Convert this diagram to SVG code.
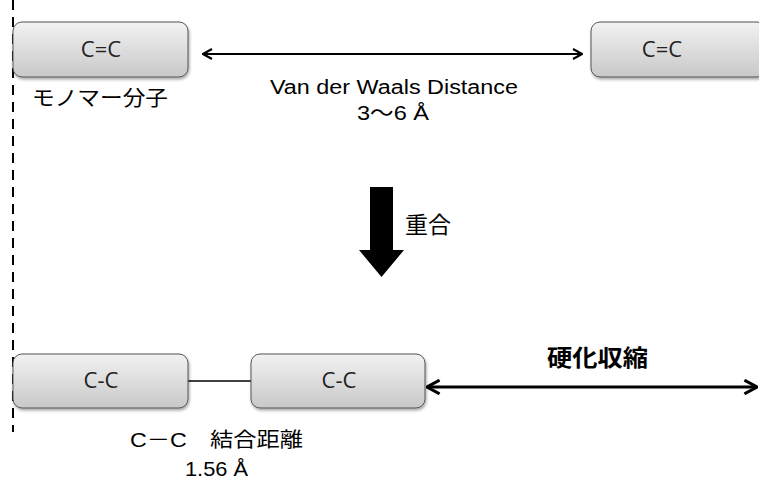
<svg xmlns="http://www.w3.org/2000/svg" width="759" height="480" viewBox="0 0 759 480">
<defs>
<linearGradient id="g" x1="0" y1="0" x2="0" y2="1">
<stop offset="0" stop-color="#f2f2f2"/>
<stop offset="1" stop-color="#c8c8c8"/>
</linearGradient>
<filter id="sh" x="-10%" y="-20%" width="130%" height="160%">
<feDropShadow dx="1" dy="2" stdDeviation="1.5" flood-color="#000" flood-opacity="0.35"/>
</filter>
<marker id="ah" viewBox="0 0 12 12" refX="11" refY="6" markerWidth="12" markerHeight="12" markerUnits="userSpaceOnUse" orient="auto-start-reverse">
<polyline points="2,1 11,6 2,11" fill="none" stroke="#000" stroke-width="2.2"/>
</marker>
<marker id="ah2" viewBox="0 0 14 14" refX="13" refY="7" markerWidth="16" markerHeight="16" markerUnits="userSpaceOnUse" orient="auto-start-reverse">
<polyline points="2,1 13,7 2,13" fill="none" stroke="#000" stroke-width="2.6"/>
</marker>
</defs>
<style>
.box{fill:url(#g);stroke:#555;stroke-width:1;filter:url(#sh)}
.bl{font-family:"Open Sans","Liberation Sans",sans-serif;font-size:22px;fill:#222;text-anchor:middle}
.jp{font-family:"Noto Sans CJK JP","Liberation Sans",sans-serif;fill:#000}
.lt{font-family:"Liberation Sans","Noto Sans CJK JP",sans-serif;fill:#000}
</style>
<rect width="759" height="480" fill="#fff"/>
<g id="connectors">
<line x1="13" y1="0" x2="13" y2="432" stroke="#000" stroke-width="2" stroke-dasharray="10,7"/>
<line x1="203" y1="54" x2="582" y2="54" stroke="#000" stroke-width="2" marker-start="url(#ah)" marker-end="url(#ah)"/>
<line x1="188" y1="381" x2="251" y2="381" stroke="#000" stroke-width="1.5"/>
<line x1="427" y1="387" x2="757" y2="387" stroke="#000" stroke-width="3" marker-start="url(#ah2)" marker-end="url(#ah2)"/>
<polygon points="370,187 393,187 393,250 404,250 381.5,277 359,250 370,250" fill="#000"/>
</g>
<g id="n1"><rect class="box" x="13" y="22" width="175" height="55" rx="9"/><text class="bl" x="101" y="57">C=C</text></g>
<g id="n2"><rect class="box" x="591" y="22" width="175" height="55" rx="9"/><text class="bl" x="662" y="57">C=C</text></g>
<g id="n3"><rect class="box" x="13" y="354" width="175" height="54" rx="9"/><text class="bl" x="101" y="388">C-C</text></g>
<g id="n4"><rect class="box" x="251" y="354" width="174" height="54" rx="9"/><text class="bl" x="339" y="388">C-C</text></g>
<g id="labels">
<text class="jp" x="32" y="105" font-size="21" textLength="136" lengthAdjust="spacingAndGlyphs">モノマー分子</text>
<text class="lt" x="270" y="94" font-size="20" textLength="248" lengthAdjust="spacingAndGlyphs">Van der Waals Distance</text>
<text class="lt" x="357" y="120" font-size="21" textLength="72" lengthAdjust="spacingAndGlyphs">3～6 Å</text>
<text class="jp" x="405" y="233" font-size="23">重合</text>
<text class="jp" x="547" y="366" font-size="23" font-weight="bold" textLength="101" lengthAdjust="spacingAndGlyphs">硬化収縮</text>
<text class="lt" x="130" y="447" font-size="20" textLength="173" lengthAdjust="spacingAndGlyphs">C－C　結合距離</text>
<text class="lt" x="185" y="476" font-size="21" textLength="63" lengthAdjust="spacingAndGlyphs">1.56 Å</text>
</g>
</svg>
